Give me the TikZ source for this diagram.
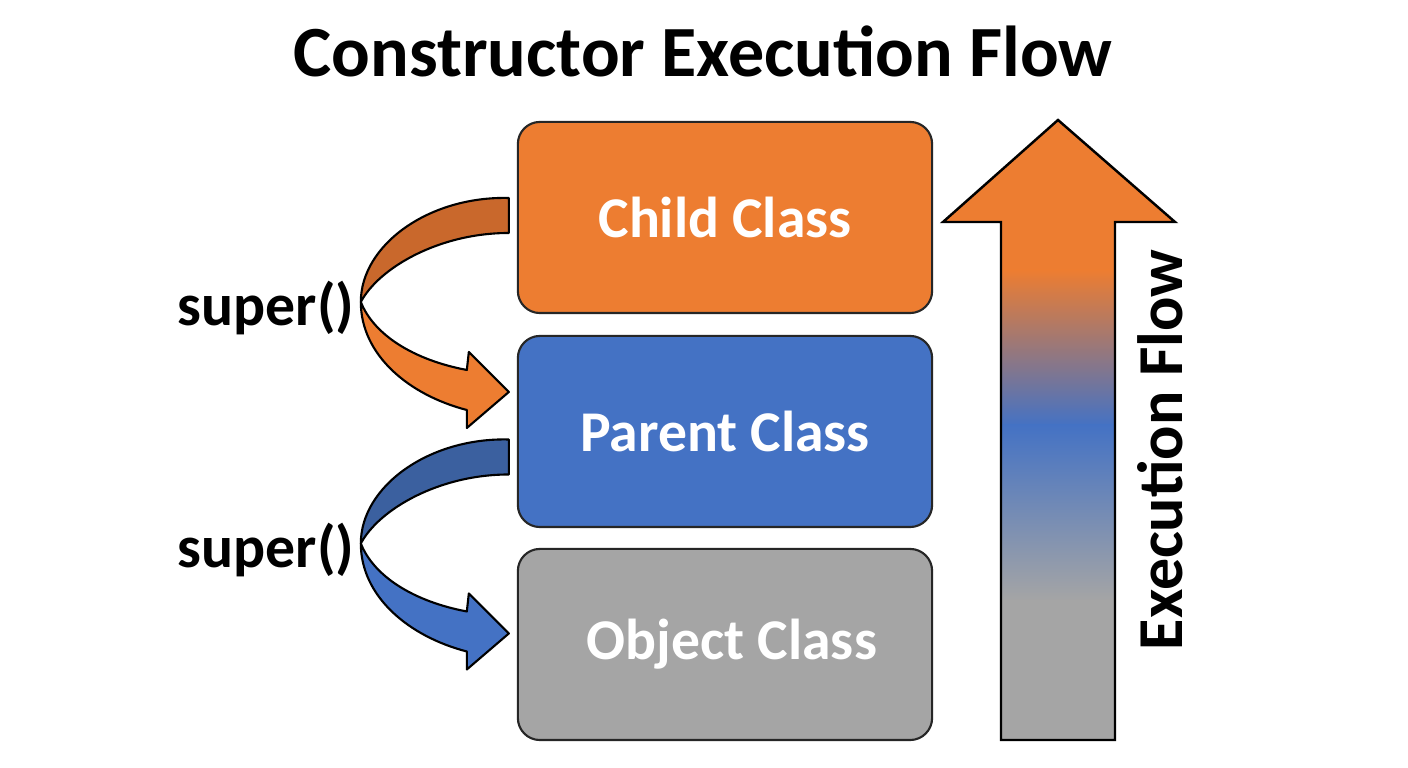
\documentclass[tikz,border=0pt]{standalone}
\usepackage{fontspec}
\setmainfont{Carlito}
\usetikzlibrary{calc}
\definecolor{childorange}{HTML}{ED7D31}
\definecolor{parentblue}{HTML}{4472C4}
\definecolor{objectgray}{HTML}{A5A5A5}
\definecolor{backorange}{HTML}{C9682C}
\definecolor{backblue}{HTML}{3B609F}
\tikzstyle{classbox} = [draw=black!85, line width=0.6pt, rounded corners=0.22cm, minimum width=4.14cm, minimum height=1.91cm, text=white, font=\fontsize{16.4}{20}\selectfont\bfseries]
\tikzstyle{ribbon} = [draw=black, line width=0.6pt, line join=round]
\tikzstyle{superlabel} = [font=\fontsize{17}{20}\selectfont\bfseries, text=black]

% curved super() ribbon: #1 origin, #2 front colour, #3 back colour
\newcommand{\superarrow}[3]{%
  \begin{scope}[shift={#1}]
    \draw[ribbon, fill=#3] (0,-17.5) .. controls (-80,-19.5) and (-148,29.5) .. (-148,86.5)
      .. controls (-130,52.5) and (-70,17.5) .. (0,17.5) -- cycle;
    \draw[ribbon, fill=#2] (-148,86.5) .. controls (-148,139.5) and (-100,179.5) .. (-42,194.5)
      -- (-42,212.5) -- (0,176.5) -- (-40,136.5) -- (-42,154.5)
      .. controls (-95,144.5) and (-135,119.5) .. (-148,86.5) -- cycle;
  \end{scope}}

\begin{document}
\begin{tikzpicture}[x=0.01cm, y=-0.01cm]
        \useasboundingbox (0,0) rectangle (1408,768);
        \fill[white] (0,0) rectangle (1408,768);

        % Title
        \node[font=\fontsize{20.5}{24}\selectfont\bfseries] (title) at (703,51) {Constructor Execution Flow};

        % Class boxes
        \node[classbox, fill=childorange] (child) at (725,217.5) {Child Class};
        \node[classbox, fill=parentblue] (parent) at (725,431.5) {Parent Class};
        \node[classbox, fill=objectgray] (object) at (725,644.5) {\hspace*{0.14cm}Object Class};

        % super() calls
        \superarrow{($(child.west)+(-8,-2)$)}{childorange}{backorange}
        \superarrow{($(parent.west)+(-8,25.5)$)}{parentblue}{backblue}
        \node[superlabel] (super1) at (266,308) {super()};
        \node[superlabel] (super2) at (266,550) {super()};

        % Execution flow arrow
        \coordinate (flowtip) at (1058,120);
        \begin{scope}
          \clip (1001,740) -- (1001,222) -- (943,222) -- (flowtip) -- (1175,222) -- (1115,222) -- (1115,740) -- cycle;
          \fill[childorange] (940,110) rectangle (1180,271);
          \shade[top color=childorange, bottom color=parentblue] (940,270) rectangle (1180,426);
          \shade[top color=parentblue, bottom color=objectgray] (940,425) rectangle (1180,601);
          \fill[objectgray] (940,600) rectangle (1180,745);
        \end{scope}
        \draw[line width=0.7pt, line join=miter] (1001,740) -- (1001,222) -- (943,222) -- (flowtip) -- (1175,222) -- (1115,222) -- (1115,740) -- cycle;
        \node[rotate=90, font=\fontsize{18.2}{22}\selectfont\bfseries] (flowlabel) at (1160,450) {Execution Flow};
\end{tikzpicture}
\end{document}
